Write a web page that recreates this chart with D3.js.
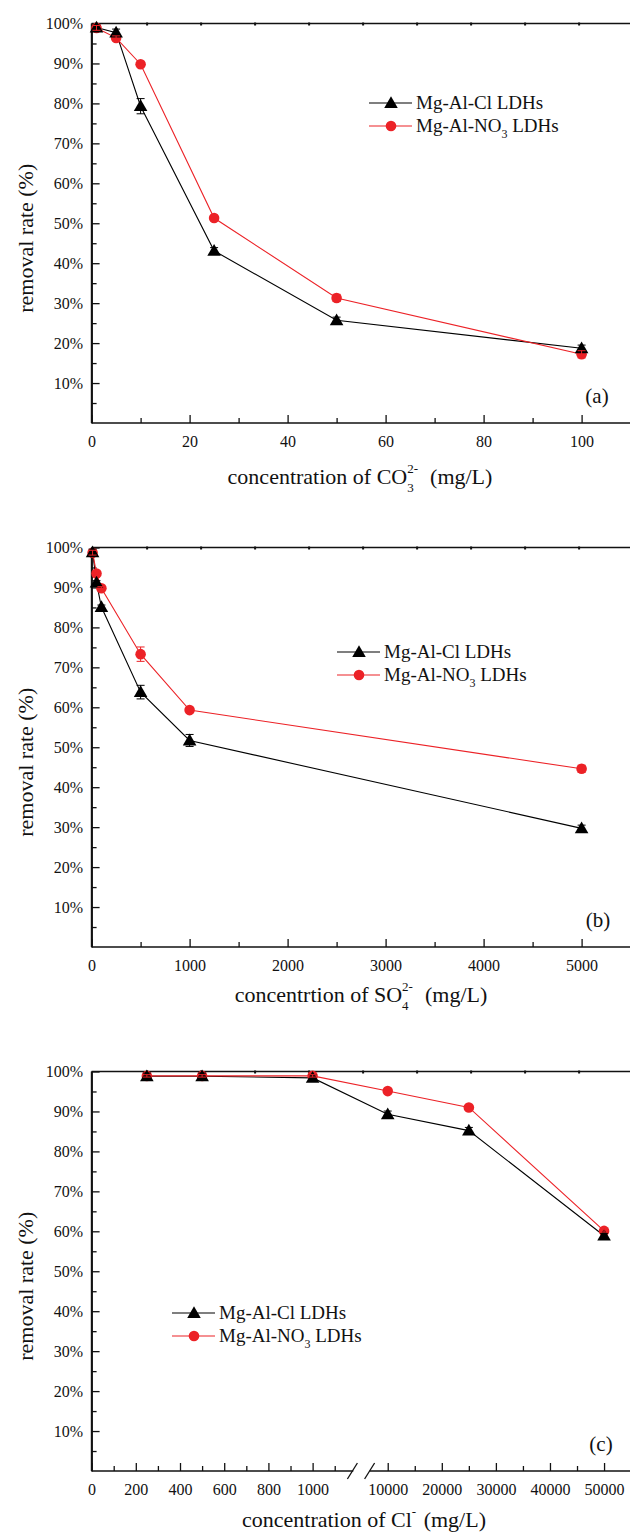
<!DOCTYPE html>
<html>
<head>
<meta charset="utf-8">
<script src="https://cdn.jsdelivr.net/npm/d3@7/dist/d3.min.js"></script>
<style>
  html, body { margin: 0; padding: 0; background: #fff; }
  svg { display: block; }
  text { font-family: "Liberation Serif", "Times New Roman", serif; fill: #111; }
</style>
</head>
<body>
<svg id="chart" width="630" height="1533"></svg>
<script>
// ---- data: removal rate (%) vs. competing anion concentration (mg/L) ----
const seriesNames = ["Mg-Al-Cl LDHs", "Mg-Al-NO3 LDHs"];

// (a) carbonate
const co3Conc   = [1, 5, 10, 25, 50, 100];
const co3Cl     = [99.0, 97.7, 79.3, 43.1, 25.7, 18.7];
const co3ClErr  = [0.6, 0.9, 1.9, 0.8, 0.8, 0.8];
const co3No3    = [98.9, 96.4, 89.8, 51.3, 31.3, 17.2];
const co3No3Err = [0.6, 0.5, 0.3, 0.3, 0.9, 0.9];
const co3Ticks  = [0, 20, 40, 60, 80, 100];

// (b) sulfate
const so4Conc   = [10, 50, 100, 500, 1000, 5000];
const so4Cl     = [98.8, 91.2, 85.1, 63.8, 51.7, 29.7];
const so4ClErr  = [0.8, 0.5, 0.5, 1.7, 1.5, 0.8];
const so4No3    = [98.7, 93.5, 89.8, 73.3, 59.3, 44.6];
const so4No3Err = [0.6, 0.4, 0.4, 1.8, 0.4, 0.9];
const so4Ticks  = [0, 1000, 2000, 3000, 4000, 5000];

// (c) chloride (broken x axis)
const clConc    = [250, 500, 1000, 10000, 25000, 50000];
const clCl      = [98.8, 98.8, 98.4, 89.3, 85.2, 58.9];
const clClErr   = [0.8, 0.8, 0.8, 0.8, 0.8, 0.6];
const clNo3     = [98.9, 98.9, 98.9, 95.1, 91.0, 60.1];
const clNo3Err  = [0.3, 0.3, 0.3, 0.3, 0.3, 0.3];
const clTicksLow  = [0, 200, 400, 600, 800, 1000];
const clTicksHigh = [10000, 20000, 30000, 40000, 50000];

const yTicks = [10, 20, 30, 40, 50, 60, 70, 80, 90, 100];

// ---- styling ----
const BLACK = "#000";
const RED = "#ec2227";
const FONT = "Liberation Serif";
const svg = d3.select("#chart");
const X0 = 91.6, X1 = 630.6;
const yMinor = d3.range(5, 100, 10);

// compose a label from pieces (plain text, subscripts, superscripts)
function richLabel(parent, parts, cx, baseline, anchor) {
  const g = parent.append("g");
  let x = 0;
  parts.forEach(p => {
    if (p.stack) {
      const ws = [];
      if (p.sub) {
        const t = g.append("text").attr("x", x).attr("y", p.subDy)
          .style("font-size", p.size + "px").text(p.sub);
        ws.push(t.node().getComputedTextLength());
      }
      if (p.sup) {
        const t = g.append("text").attr("x", x).attr("y", -p.supDy)
          .style("font-size", p.size + "px").text(p.sup);
        ws.push(t.node().getComputedTextLength());
      }
      x += d3.max(ws) + (p.gap || 0);
    } else {
      const t = g.append("text").attr("x", x).attr("y", 0)
        .style("font-size", p.size + "px").attr("xml:space", "preserve").text(p.t);
      x += t.node().getComputedTextLength() + (p.gap || 0);
    }
  });
  const left = anchor === "start" ? cx : cx - x / 2;
  g.attr("transform", `translate(${left},${baseline})`);
  return g;
}

function drawPanel(cfg) {
  const g = svg.append("g");
  const y = d3.scaleLinear().domain([0, 100]).range([cfg.bottom, cfg.top]);
  const x = cfg.x;

  // top frame line with its small ticks
  g.append("line").attr("x1", X0).attr("x2", 632).attr("y1", y(100)).attr("y2", y(100))
    .attr("stroke", "#111").attr("stroke-width", 1.6);
  const topScale = d3.scaleLinear().domain([0, 10]).range([X0 + 1, X0 + 541]);
  g.append("g").attr("transform", `translate(0,${y(100)})`)
    .call(d3.axisTop(topScale).tickValues(d3.range(1, 10)).tickSizeInner(-3).tickSizeOuter(0).tickFormat(""))
    .call(a => a.select(".domain").remove())
    .call(a => a.selectAll("line").attr("stroke", "#111").attr("stroke-width", 2).attr("transform", "translate(0,-1)"));

  // y axis
  const yAxis = g.append("g").attr("transform", `translate(${X0},0)`)
    .call(d3.axisLeft(y).tickValues(yTicks).tickFormat(d => d + "%")
      .tickSizeInner(-8).tickSizeOuter(0).tickPadding(8.6));
  yAxis.attr("font-family", FONT);
  yAxis.select(".domain").attr("stroke", "#111").attr("stroke-width", 1.6);
  yAxis.selectAll(".tick line").attr("stroke", "#111").attr("stroke-width", 1.3);
  yAxis.selectAll("text").style("font-size", "16px").style("font-family", FONT).attr("fill", "#111");
  g.append("g").attr("transform", `translate(${X0},0)`)
    .call(d3.axisLeft(y).tickValues(yMinor).tickSizeInner(-5).tickSizeOuter(0).tickFormat(""))
    .call(a => a.select(".domain").remove())
    .call(a => a.selectAll("line").attr("stroke", "#111").attr("stroke-width", 1.3));
  g.append("line").attr("x1", X0).attr("x2", X0).attr("y1", y(0)).attr("y2", y(100))
    .attr("stroke", "#111").attr("stroke-width", 1.6);

  // x axis segments
  cfg.segments.forEach(seg => {
    const ax = g.append("g").attr("transform", `translate(0,${y(0)})`)
      .call(d3.axisBottom(x).tickValues(seg.major).tickFormat(d3.format("d"))
        .tickSizeInner(-8).tickSizeOuter(0).tickPadding(12.6));
    ax.attr("font-family", FONT);
    ax.select(".domain").remove();
    ax.selectAll(".tick line").attr("stroke", "#111").attr("stroke-width", 1.3);
    ax.selectAll("text").style("font-size", "16px").style("font-family", FONT).attr("fill", "#111");
    g.append("g").attr("transform", `translate(0,${y(0)})`)
      .call(d3.axisBottom(x).tickValues(seg.minor).tickSizeInner(-5).tickSizeOuter(0).tickFormat(""))
      .call(a => a.select(".domain").remove())
      .call(a => a.selectAll("line").attr("stroke", "#111").attr("stroke-width", 1.3));
    g.append("line").attr("x1", x(seg.from)).attr("x2", x(seg.to) + 2)
      .attr("y1", y(0)).attr("y2", y(0)).attr("stroke", "#111").attr("stroke-width", 1.6);
  });

  // axis break marks
  if (cfg.breakAt) {
    [x(cfg.breakAt[0]), x(cfg.breakAt[1])].forEach(px => {
      g.append("line").attr("x1", px - 5).attr("x2", px + 5)
        .attr("y1", y(0) + 8).attr("y2", y(0) - 8)
        .attr("stroke", "#111").attr("stroke-width", 1.3);
    });
  }

  // series
  const series = [
    { vals: cfg.cl, err: cfg.clErr, color: BLACK, shape: "tri" },
    { vals: cfg.no3, err: cfg.no3Err, color: RED, shape: "dot" }
  ];
  const line = d3.line().x(d => x(d[0])).y(d => y(d[1]));
  series.forEach(s => {
    g.append("path").datum(cfg.conc.map((c, i) => [c, s.vals[i]]))
      .attr("d", line).attr("fill", "none").attr("stroke", s.color).attr("stroke-width", 1.1);
  });
  const tri = d3.symbol().type(d3.symbolTriangle).size(80);
  [series[1], series[0]].forEach(s => {
    const pts = cfg.conc.map((c, i) => [c, s.vals[i]]);
    if (s.shape === "dot") {
      g.selectAll(null).data(pts).join("circle")
        .attr("cx", d => x(d[0])).attr("cy", d => y(d[1])).attr("r", 5.3).attr("fill", s.color);
    } else {
      g.selectAll(null).data(pts).join("path").attr("d", tri)
        .attr("transform", d => `translate(${x(d[0])},${y(d[1]) + 1})`).attr("fill", s.color);
    }
  });
  // error bars
  series.forEach(s => {
    cfg.conc.forEach((c, i) => {
      const px = x(c), hi = y(s.vals[i] + s.err[i]), lo = y(s.vals[i] - s.err[i]);
      g.append("line").attr("x1", px).attr("x2", px).attr("y1", hi).attr("y2", lo)
        .attr("stroke", s.color).attr("stroke-width", 1);
      [hi, lo].forEach(yy => g.append("line").attr("x1", px - 4).attr("x2", px + 4)
        .attr("y1", yy).attr("y2", yy).attr("stroke", s.color).attr("stroke-width", 1));
    });
  });

  // legend
  const L = cfg.legend;
  series.forEach((s, i) => {
    const ry = L.y + i * 23;
    g.append("line").attr("x1", L.x).attr("x2", L.x + 43).attr("y1", ry).attr("y2", ry)
      .attr("stroke", s.color).attr("stroke-width", 1.1);
    if (s.shape === "dot") {
      g.append("circle").attr("cx", L.x + 22).attr("cy", ry).attr("r", 5.3).attr("fill", s.color);
    } else {
      g.append("path").attr("d", tri).attr("transform", `translate(${L.x + 22},${ry + 1})`).attr("fill", s.color);
    }
  });
  richLabel(g, [{ t: "Mg-Al-Cl LDHs", size: 19 }], L.x + 47, L.y + 6, "start");
  richLabel(g, [{ t: "Mg-Al-NO", size: 19 }, { stack: true, sub: "3", subDy: 6, size: 12, gap: 0 },
    { t: " LDHs", size: 19 }], L.x + 47, L.y + 23 + 6, "start");

  // axis titles
  g.append("text").attr("transform", `translate(33,${(cfg.top + cfg.bottom) / 2 + 15}) rotate(-90)`)
    .attr("text-anchor", "middle").style("font-size", "22px").style("font-family", FONT)
    .text("removal rate (%)");
  richLabel(g, cfg.xTitle, cfg.xTitleX, cfg.bottom + cfg.xTitleDy, "middle");

  // panel tag
  g.append("text").attr("x", cfg.tag[1]).attr("y", cfg.bottom - 20).attr("text-anchor", "middle")
    .style("font-size", "21px").text(cfg.tag[0]);
}

const supPart = (sub, sup) => ({ stack: true, sub, sup, subDy: 8, supDy: 11, size: 13, gap: 12 });

// (a)
const xA = d3.scaleLinear().domain([0, 110]).range([X0, X1]);
drawPanel({
  top: 23.5, bottom: 423, x: xA,
  segments: [{ major: co3Ticks, minor: [10, 30, 50, 70, 90], from: 0, to: 110 }],
  conc: co3Conc, cl: co3Cl, clErr: co3ClErr, no3: co3No3, no3Err: co3No3Err,
  legend: { x: 369, y: 103 },
  xTitle: [{ t: "concentration of CO", size: 22 }, supPart("3", "2-"), { t: "(mg/L)", size: 22 }],
  xTitleX: 360, xTitleDy: 61, tag: ["(a)", 597]
});

// (b)
const xB = d3.scaleLinear().domain([0, 5500]).range([X0, X1]);
drawPanel({
  top: 547.5, bottom: 947, x: xB,
  segments: [{ major: so4Ticks, minor: [500, 1500, 2500, 3500, 4500], from: 0, to: 5500 }],
  conc: so4Conc, cl: so4Cl, clErr: so4ClErr, no3: so4No3, no3Err: so4No3Err,
  legend: { x: 337, y: 652 },
  xTitle: [{ t: "concentrtion of SO", size: 22 }, supPart("4", "2-"), { t: "(mg/L)", size: 22 }],
  xTitleX: 361, xTitleDy: 55, tag: ["(b)", 598]
});

// (c) — piecewise scale: 0–1180 on the left segment, 6650–55000 on the right
const xC = d3.scaleLinear().domain([0, 1180, 6650, 55000]).range([X0, 352.4, 369.6, 631.1]);
drawPanel({
  top: 1071.5, bottom: 1471, x: xC,
  segments: [
    { major: clTicksLow, minor: [100, 300, 500, 700, 900, 1100], from: 0, to: 1175 },
    { major: clTicksHigh, minor: [15000, 25000, 35000, 45000], from: 6650, to: 55000 }
  ],
  breakAt: [1180, 6650],
  conc: clConc, cl: clCl, clErr: clClErr, no3: clNo3, no3Err: clNo3Err,
  legend: { x: 172, y: 1313 },
  xTitle: [{ t: "concentration of Cl", size: 22 }, { stack: true, sup: "-", supDy: 11, size: 13, gap: 2 },
    { t: " (mg/L)", size: 22 }],
  xTitleX: 364, xTitleDy: 56, tag: ["(c)", 601]
});
</script>
</body>
</html>
